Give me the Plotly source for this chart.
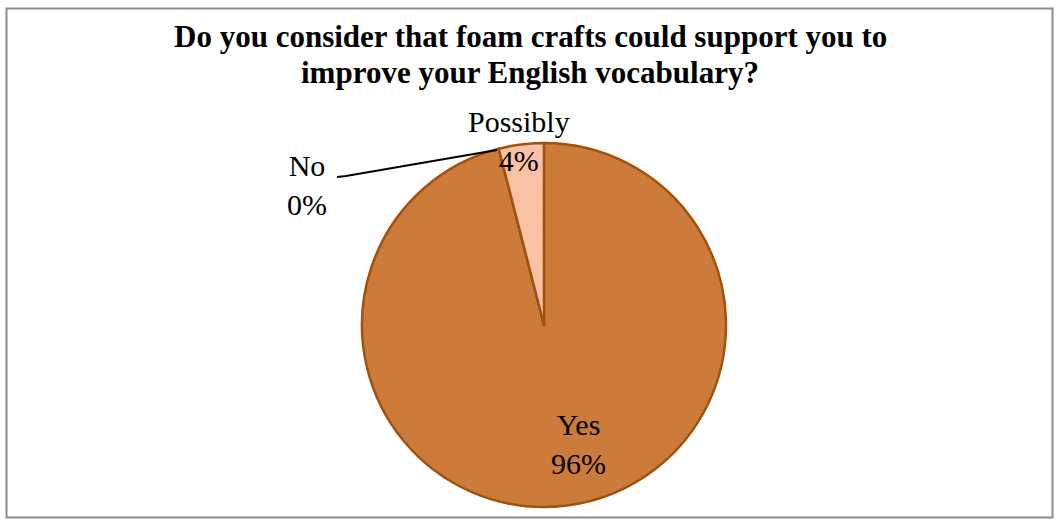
import plotly.graph_objects as go

labels = ["Yes", "No", "Possibly"]
values = [96, 0, 4]
colors = ["#CD7B3A", "#CD7B3A", "#F9C1A5"]
title_lines = ["Do you consider that foam crafts could support you to",
               "improve your English vocabulary?"]

W, H = 1056, 521
cx, cy, r = 544, 325, 182

fig = go.Figure(go.Pie(
    labels=labels, values=values, sort=False, direction="clockwise", rotation=0,
    marker=dict(colors=colors, line=dict(color="#A0520F", width=2.5)),
    textinfo="none", hoverinfo="label+percent", showlegend=False,
    domain=dict(x=[(cx - r) / W, (cx + r) / W], y=[(H - cy - r) / H, (H - cy + r) / H]),
))

serif = "Liberation Serif, Times New Roman, serif"
font = dict(family=serif, size=30, color="black")
anns = [
    dict(x=578 / W, y=1 - 444 / H, text=f"{labels[0]}<br>{values[0]}%"),
    dict(x=307 / W, y=1 - 185 / H, text=f"{labels[1]}<br>{values[1]}%"),
    dict(x=519 / W, y=1 - 141 / H, text=f"{labels[2]}<br>{values[2]}%"),
]
annotations = [dict(xref="paper", yref="paper", showarrow=False, xanchor="center", yanchor="middle",
                    font=font, **a) for a in anns]
for i, (line, yy) in enumerate(zip(title_lines, [36, 72])):
    annotations.append(dict(xref="paper", yref="paper", x=530 / W, y=1 - yy / H, xanchor="center",
                            yanchor="middle", showarrow=False, text="<b>" + line + "</b>",
                            font=dict(family=serif, size=31, color="black")))

shapes = [
    dict(type="rect", xref="paper", yref="paper", x0=6.5 / W, x1=1 - 3.5 / W, y0=3.5 / H, y1=1 - 8.5 / H,
         line=dict(color="#8C8C8C", width=2)),
    dict(type="path", xref="paper", yref="paper",
         path=f"M {337 / W},{1 - 177 / H} L {346 / W},{1 - 176 / H} L {497 / W},{1 - 150 / H}",
         line=dict(color="black", width=2)),
]

fig.update_layout(width=W, height=H, margin=dict(l=0, r=0, t=0, b=0),
                  paper_bgcolor="white", plot_bgcolor="white",
                  annotations=annotations, shapes=shapes)
fig.write_html("out.html", config={"displayModeBar": False},
               post_script="document.body.style.margin='0';document.body.style.overflow='hidden';")
